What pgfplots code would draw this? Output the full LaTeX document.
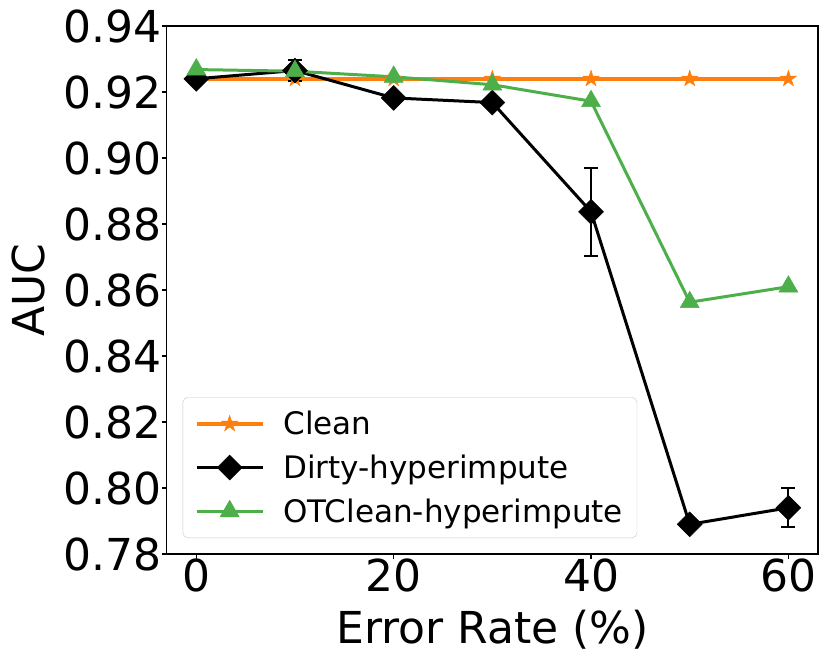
\documentclass[border=0pt]{standalone}
\usepackage{fontspec}
\setmainfont{DejaVu Sans}
\usepackage{pgfplots}
\pgfplotsset{compat=1.18}
\definecolor{corange}{HTML}{FF7F0E}
\definecolor{cgreen}{HTML}{4DAF4A}
\pgfdeclareplotmark{fstar}{%
  \pgfpathmoveto{\pgfpointpolar{90}{\pgfplotmarksize}}%
  \pgfpathlineto{\pgfpointpolar{126}{0.382\pgfplotmarksize}}%
  \pgfpathlineto{\pgfpointpolar{162}{\pgfplotmarksize}}%
  \pgfpathlineto{\pgfpointpolar{198}{0.382\pgfplotmarksize}}%
  \pgfpathlineto{\pgfpointpolar{234}{\pgfplotmarksize}}%
  \pgfpathlineto{\pgfpointpolar{270}{0.382\pgfplotmarksize}}%
  \pgfpathlineto{\pgfpointpolar{306}{\pgfplotmarksize}}%
  \pgfpathlineto{\pgfpointpolar{342}{0.382\pgfplotmarksize}}%
  \pgfpathlineto{\pgfpointpolar{18}{\pgfplotmarksize}}%
  \pgfpathlineto{\pgfpointpolar{54}{0.382\pgfplotmarksize}}%
  \pgfpathclose
  \pgfusepathqfillstroke
}
\begin{document}
\begin{tikzpicture}
\path[use as bounding box] (-166.7pt,-110pt) rectangle (663.3pt,554pt);
\begin{axis}[
  at={(0pt,0pt)}, anchor=south west,
  scale only axis, width=651.3pt, height=528pt,
  xmin=-3, xmax=63, ymin=0.78, ymax=0.94,
  xtick={0,20,40,60},
  ytick={0.78,0.80,0.82,0.84,0.86,0.88,0.90,0.92,0.94},
  xtick pos=left, ytick pos=left,
  tick align=outside, major tick length=5pt,
  tick style={black, line width=1.1pt},
  axis line style={black, line width=1.1pt},
  /pgf/number format/assume math mode=true,
  tick label style={font=\fontsize{44}{50}\selectfont, inner sep=0pt},
  yticklabel style={/pgf/number format/.cd, fixed, fixed zerofill, precision=2},
  xlabel={Error Rate (\%)}, ylabel={AUC},
  label style={font=\fontsize{44}{50}\selectfont, inner sep=0pt},
  xlabel style={at={(axis description cs:0.5,-0.16856)}, anchor=base},
  ylabel style={at={(axis description cs:-0.18686,0.5)}, anchor=base},
  clip=false,
  legend style={at={(axis description cs:0.0246,0.0303)}, anchor=south west,
    draw=black!22, rounded corners=5pt, fill=white,
    inner xsep=12pt, inner ysep=12pt, row sep=14.6pt,
    font=\fontsize{31}{37}\selectfont,
    cells={inner sep=0pt, text height=23.6pt, text depth=7.4pt},
    /tikz/every odd column/.append style={column sep=17pt}},
  legend cell align=left,
  legend image code/.code={\draw[mark repeat=2,mark phase=2] plot coordinates {(0pt,0pt) (33pt,0pt) (66pt,0pt)};},
]
\addplot[corange, line width=3.5pt, mark=fstar, mark size=8.5pt,
  mark options={solid, sharp corners, line width=0.5pt, fill=corange}]
  coordinates {(0,0.9240) (10,0.9240) (20,0.9240) (30,0.9240) (40,0.9240) (50,0.9240) (60,0.9240)};
\addlegendentry{Clean}
\addplot[black, line width=3pt, mark=square*, mark size=8.8pt,
  mark options={solid, sharp corners, rotate=45, line width=0.5pt, fill=black},
  error bars/.cd, y dir=both, y explicit,
  error bar style={line width=2pt, black, sharp corners},
  error mark options={rotate=90, mark size=7pt, line width=2pt, black}]
  coordinates {
  (0,0.9240) +- (0,0.0008)
  (10,0.9265) +- (0,0.0032)
  (20,0.9182) +- (0,0.0003)
  (30,0.9168) +- (0,0.0003)
  (40,0.8837) +- (0,0.0134)
  (50,0.7890) +- (0,0.0005)
  (60,0.7940) +- (0,0.0059)};
\addlegendentry{Dirty-hyperimpute}
\addplot[cgreen, line width=3pt, mark=triangle*, mark size=11pt,
  mark options={solid, sharp corners, line width=0.5pt, fill=cgreen}]
  coordinates {(0,0.9268) (10,0.9263) (20,0.9246) (30,0.9222) (40,0.9172) (50,0.8563) (60,0.8610)};
\addlegendentry{OTClean-hyperimpute}
\end{axis}
\end{tikzpicture}
\end{document}
